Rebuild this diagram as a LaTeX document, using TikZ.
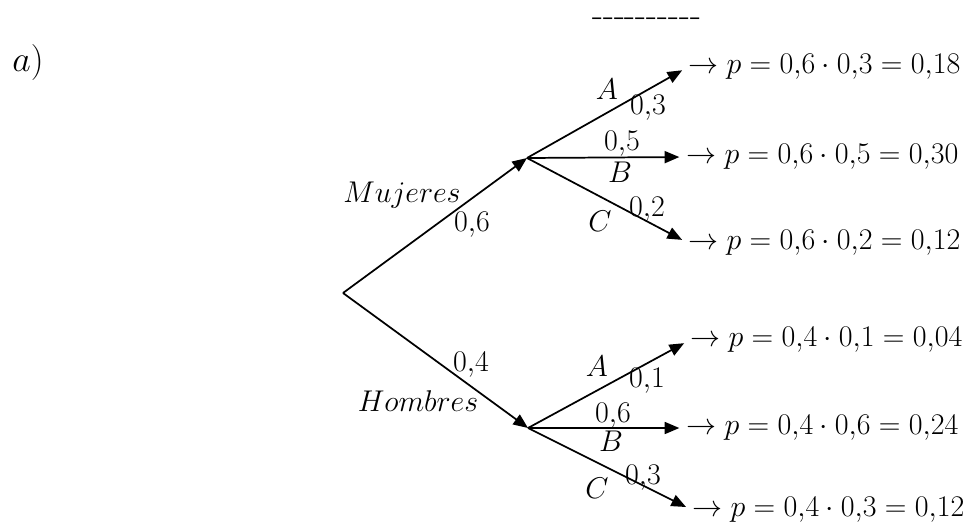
\RequirePackage{fix-cm}
\documentclass[tikz,border=0pt]{standalone}
\usetikzlibrary{arrows.meta}
\newcommand\hy{\hbox{-}}
\begin{document}
\begin{tikzpicture}[x=0.75pt,y=-0.75pt,
  font=\fontsize{22.5}{27}\selectfont,
  br/.style={line width=1.3pt,-{Triangle[length=11pt,width=9pt]}},
  lbl/.style={inner sep=0pt,anchor=base},
  leaf/.style={inner sep=0pt,anchor=west}]
\useasboundingbox (0,0) rectangle (974,524);
% header
\node[inner sep=0pt,anchor=base west,font=\fontsize{27}{30}\selectfont] (ta) at (12,72) {$a)$};
\node[inner sep=0pt,anchor=base west,font=\fontsize{27}{30}\selectfont] (dash) at (592,27) {\hy\hy\hy\hy\hy\hy\hy\hy\hy\hy};
% tree points
\coordinate (root) at (343,293);
\coordinate (m) at (527,158);
\coordinate (h) at (528,428);
% leaves
\node[leaf] (l1) at (688,67)  {$\to p = 0{,}6\cdot 0{,}3 = 0{,}18$};
\node[leaf] (l2) at (686,157) {$\to p = 0{,}6\cdot 0{,}5 = 0{,}30$};
\node[leaf] (l3) at (688,243) {$\to p = 0{,}6\cdot 0{,}2 = 0{,}12$};
\node[leaf] (l4) at (690,340) {$\to p = 0{,}4\cdot 0{,}1 = 0{,}04$};
\node[leaf] (l5) at (686,428) {$\to p = 0{,}4\cdot 0{,}6 = 0{,}24$};
\node[leaf] (l6) at (692,510) {$\to p = 0{,}4\cdot 0{,}3 = 0{,}12$};
% connectors
\draw[br] (root) -- (m);
\draw[br] (root) -- (h);
\foreach \l in {l1,l2,l3} \draw[br,shorten >=5pt] (m) -- (\l.west);
\foreach \l in {l4,l5,l6} \draw[br,shorten >=5pt] (h) -- (\l.west);
% labels upper
\node[lbl] (tmuj) at (402,203) {$Mujeres$};
\node[lbl] (p06) at (472,231) {$0{,}6$};
\node[lbl] (ua) at (607,100) {$A$};
\node[lbl] (u03) at (648,115) {$0{,}3$};
\node[lbl] (u05) at (622,151) {$0{,}5$};
\node[lbl] (ub) at (620,182) {$B$};
\node[lbl] (u02) at (647,216) {$0{,}2$};
\node[lbl] (uc) at (600,231) {$C$};
% labels lower
\node[lbl] (p04) at (471,371) {$0{,}4$};
\node[lbl] (thom) at (418,411) {$Hombres$};
\node[lbl] (la) at (597,376) {$A$};
\node[lbl] (l01) at (647,387) {$0{,}1$};
\node[lbl] (l06) at (613,422) {$0{,}6$};
\node[lbl] (lb) at (611,451) {$B$};
\node[lbl] (l03) at (643,484) {$0{,}3$};
\node[lbl] (lc) at (597,498) {$C$};
\end{tikzpicture}
\end{document}
